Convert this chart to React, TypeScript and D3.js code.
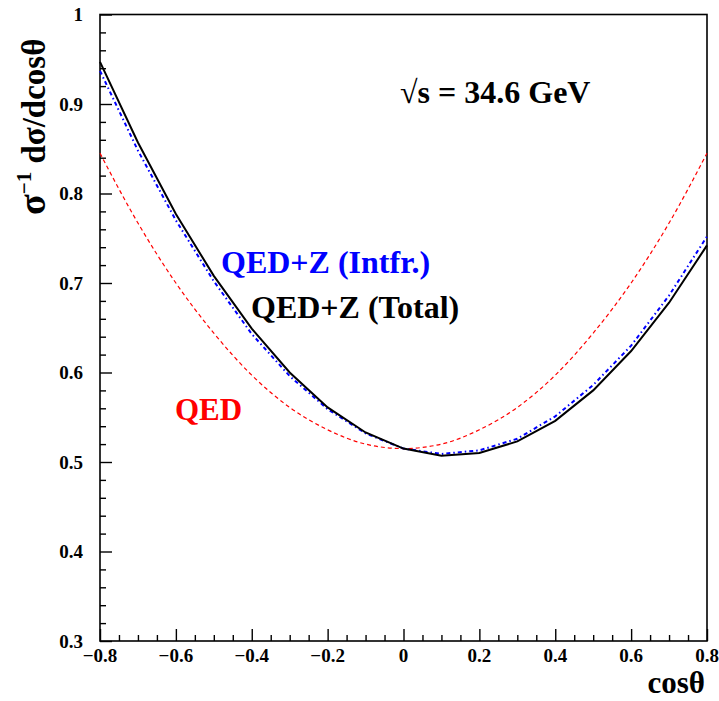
import React, { useEffect, useRef } from "react";
import * as d3 from "d3";

// cos(theta) sample points
const cosTheta = [-0.8, -0.7, -0.6, -0.5, -0.4, -0.3, -0.2, -0.1, 0, 0.1, 0.2, 0.3, 0.4, 0.5, 0.6, 0.7, 0.8];

// normalised angular distributions
const qedValues = [0.845, 0.767, 0.700, 0.644, 0.597, 0.561, 0.536, 0.520, 0.515, 0.520, 0.536, 0.561, 0.597, 0.644, 0.700, 0.767, 0.845];
const intfrValues = [0.937, 0.848, 0.770, 0.702, 0.643, 0.596, 0.559, 0.532, 0.515, 0.509, 0.513, 0.526, 0.551, 0.586, 0.630, 0.686, 0.752];
const totalValues = [0.947, 0.857, 0.777, 0.708, 0.649, 0.600, 0.561, 0.533, 0.515, 0.507, 0.510, 0.523, 0.546, 0.580, 0.624, 0.678, 0.742];

const xTicks = [-0.8, -0.6, -0.4, -0.2, 0, 0.2, 0.4, 0.6, 0.8];
const yTicks = [0.3, 0.4, 0.5, 0.6, 0.7, 0.8, 0.9, 1];

const FONT = "Liberation Serif";

const App = () => {
  const ref = useRef<SVGSVGElement>(null);

  useEffect(() => {
    const svg = d3.select(ref.current);
    svg.selectAll("*").remove();

    const left = 100, right = 707, top = 14.5, bottom = 641;

    const x = d3.scaleLinear().domain([-0.8, 0.8]).range([left, right]);
    const y = d3.scaleLinear().domain([0.3, 1]).range([bottom, top]);

    // frame
    svg.append("rect")
      .attr("x", left).attr("y", top)
      .attr("width", right - left).attr("height", bottom - top)
      .attr("fill", "none").attr("stroke", "#000").attr("stroke-width", 1.6);

    // y axis ticks (inside)
    const yAxis = d3.axisRight(y).tickValues(d3.range(0.3, 1.0001, 0.02)).tickSize(6).tickFormat(() => "");
    const gy = svg.append("g").attr("transform", `translate(${left},0)`).call(yAxis);
    gy.select(".domain").remove();
    gy.selectAll(".tick line")
      .attr("stroke-width", 1.4)
      .attr("x2", (d: any) => (Math.abs(Math.round(d * 10) - d * 10) < 1e-6 ? 12 : 6));

    svg.append("g").selectAll("text").data(yTicks).enter().append("text")
      .attr("x", 83).attr("y", (d) => y(d)).attr("dy", "0.35em")
      .attr("text-anchor", "end")
      .attr("font-family", FONT).attr("font-weight", "bold").attr("font-size", 19)
      .text((d) => (d === 1 ? "1" : d3.format(".1f")(d)));

    // x axis ticks (inside)
    const xAxis = d3.axisTop(x).tickValues(d3.range(-0.8, 0.8001, 0.05)).tickSize(6).tickFormat(() => "");
    const gx = svg.append("g").attr("transform", `translate(0,${bottom})`).call(xAxis);
    gx.select(".domain").remove();
    gx.selectAll(".tick line")
      .attr("stroke-width", 1.4)
      .attr("y2", (d: any) => (Math.abs(Math.round(d * 5) - d * 5) < 1e-6 ? -12 : -6));

    svg.append("g").selectAll("text").data(xTicks).enter().append("text")
      .attr("x", (d) => x(d)).attr("y", 662)
      .attr("text-anchor", "middle")
      .attr("font-family", FONT).attr("font-weight", "bold").attr("font-size", 19)
      .text((d) => (d === 0 ? "0" : d3.format(".1f")(d)));

    // curves
    const line = d3.line<number>().x((_, i) => x(cosTheta[i])).y((d) => y(d));

    svg.append("path").datum(qedValues)
      .attr("d", line.curve(d3.curveMonotoneX))
      .attr("fill", "none").attr("stroke", "#ff0000").attr("stroke-width", 1.2)
      .attr("stroke-dasharray", "4,3");

    svg.append("path").datum(intfrValues)
      .attr("d", line.curve(d3.curveLinear))
      .attr("fill", "none").attr("stroke", "#0000ff").attr("stroke-width", 2)
      .attr("stroke-dasharray", "4,3,1.5,3");

    svg.append("path").datum(totalValues)
      .attr("d", line.curve(d3.curveLinear))
      .attr("fill", "none").attr("stroke", "#000").attr("stroke-width", 2);

    // annotations
    const label = (txt: string, tx: number, ty: number, color: string, size: number) =>
      svg.append("text").attr("x", tx).attr("y", ty)
        .attr("font-family", FONT).attr("font-weight", "bold").attr("font-size", size)
        .attr("fill", color).text(txt);

    label("\u221As = 34.6 GeV", 400, 103, "#000", 32);
    label("QED+Z (Intfr.)", 221, 273, "#0000ff", 32);
    label("QED+Z (Total)", 251, 318, "#000", 32);
    label("QED", 175, 420, "#ff0000", 31);

    // axis titles
    svg.append("text").attr("x", 705).attr("y", 693).attr("text-anchor", "end")
      .attr("font-family", FONT).attr("font-weight", "bold").attr("font-size", 31)
      .text("cos\u03B8");

    const yt = svg.append("text").attr("transform", "translate(45,215) rotate(-90)")
      .attr("font-family", FONT).attr("font-weight", "bold").attr("font-size", 33);
    yt.append("tspan").attr("font-size", 38).text("\u03C3");
    yt.append("tspan").attr("dy", -14).attr("font-size", 21).text("\u22121");
    yt.append("tspan").attr("dy", 14).text(" d\u03C3/dcos\u03B8");
  }, []);

  return (
    <svg ref={ref} width={719} height={701}
      style={{ position: "absolute", left: 0, top: 0, background: "#fff" }} />
  );
};

export default App;
